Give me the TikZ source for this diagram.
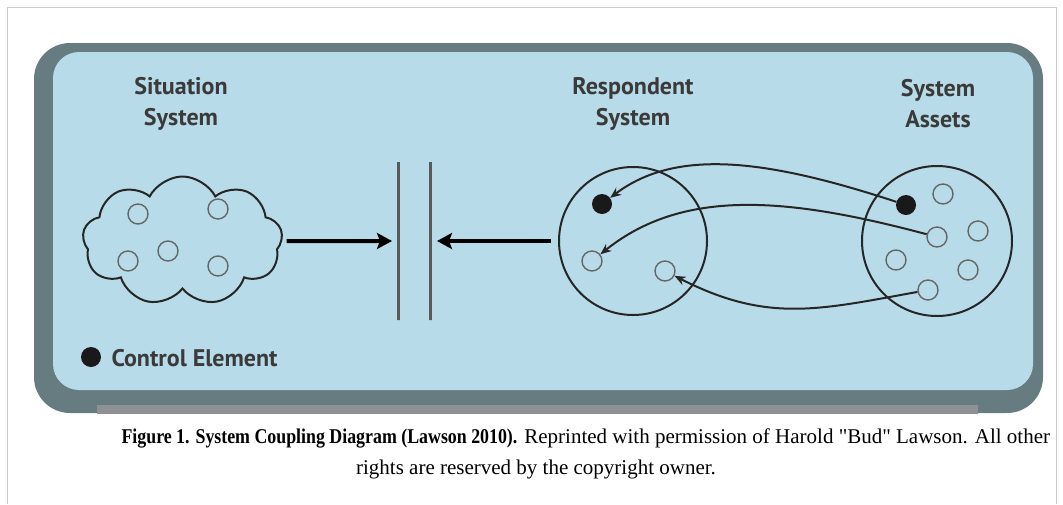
\documentclass[tikz,border=0pt]{standalone}
\usepackage{fontspec}
\usetikzlibrary{shapes.symbols,arrows.meta}
\newfontfamily\labfont{PT Sans}
\newfontfamily\capfont{Liberation Serif}[BoldFeatures={FakeStretch=0.85}]
\definecolor{panelblue}{HTML}{B8DBE9}
\definecolor{paneldark}{HTML}{677C80}
\definecolor{stripgray}{HTML}{8E9294}
\definecolor{framegray}{HTML}{CCCCCC}
\definecolor{inkgray}{HTML}{3A3A3A}
\tikzset{
  title/.style={font=\labfont\bfseries\fontsize{24}{31}\selectfont,text=inkgray,align=center},
  ring/.style={circle,draw=black!60,line width=1.4pt,minimum size=20pt,inner sep=0pt},
  ctrl/.style={circle,fill=black!90,minimum size=20pt,inner sep=0pt},
  bigc/.style={circle,draw=black!85,line width=2pt,minimum size=148pt,inner sep=0pt},
  bar/.style={draw=black!65,line width=3pt,minimum width=0pt,minimum height=158pt,inner sep=0pt,outer sep=0pt},
  push/.style={line width=4pt,-{Stealth[length=15pt,width=16pt,inset=3pt]}},
  link/.style={line width=2pt,draw=black!85,-{Stealth[length=11pt,width=9pt]}},
  captext/.style={font=\capfont\fontsize{21}{26}\selectfont}
}
\begin{document}
\begin{tikzpicture}[x=1pt,y=-1pt]
\useasboundingbox (0,0) rectangle (1063,504);
\draw[framegray,line width=1pt](7,504)--(7,7)--(1056,7)--(1056,504);
\fill[paneldark,rounded corners=36pt](34,43)rectangle(1043,413);
\fill[stripgray](97,405)rectangle(978,414);
\fill[panelblue,rounded corners=26pt](53,52)rectangle(1033,390);

\node[title](tsit)at(181,104){Situation\\System};
\node[title](tresp)at(633,104){Respondent\\System};
\node[title](tass)at(938,104){System\\Assets};

\node[cloud,draw=black!85,line width=2pt,cloud puffs=9,cloud puff arc=125,cloud ignores aspect,
  minimum width=200pt,minimum height=129pt,inner sep=0pt](sit)at(182.5,241){};
\node[ring](s1)at(138,214){};
\node[ring](s2)at(218,209){};
\node[ring](s3)at(128,261){};
\node[ring](s4)at(168,251){};
\node[ring](s5)at(218,266){};

\node[bar](barl)at(398,241){};
\node[bar](barr)at(430,241){};

\node[bigc](resp)at(633,241){};
\node[ctrl](r1)at(602,204){};
\node[ring](r2)at(592,261){};
\node[ring](r3)at(665,271){};

\node[bigc,minimum size=150pt](assets)at(937,241){};
\node[ctrl](a1)at(906,205){};
\node[ring](a2)at(937,237){};
\node[ring](a3)at(928,290){};
\node[ring](a4)at(943,194){};
\node[ring](a5)at(978,231){};
\node[ring](a6)at(896,260){};
\node[ring](a7)at(968,270){};

\draw[push,shorten <=4pt,shorten >=6pt](sit.east)--(barl);
\draw[push,shorten <=7pt,shorten >=7pt](resp.west)--(barr);
\draw[link](a1).. controls (766,159) and (676,148) ..(r1);
\draw[link](a2).. controls (787,197) and (683,188) ..(r2);
\draw[link](a3).. controls (818,310) and (767,323) ..(r3);

\node[ctrl](key)at(91,357){};
\node[title,anchor=west](keytxt)at(108,358){Control Element};

\node[captext,anchor=base west](cap1)at(118,443){\textbf{Figure 1. System Coupling Diagram (Lawson 2010).} Reprinted with permission of Harold "Bud" Lawson. All other};
\node[captext,anchor=base](cap2)at(536,474){rights are reserved by the copyright owner.};
\end{tikzpicture}
\end{document}
